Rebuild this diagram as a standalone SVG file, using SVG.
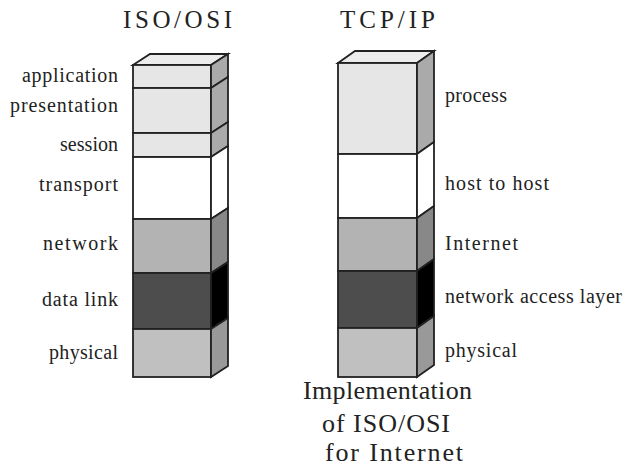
<svg xmlns="http://www.w3.org/2000/svg" width="625" height="469" viewBox="0 0 625 469">
  <style>
    .edge { stroke: #222; stroke-width: 1.8; stroke-linejoin: miter; }
    .txt { font-family: 'Liberation Serif', 'DejaVu Serif', serif; fill: #222; }
    .lbl { font-size: 20px; }
    .ttl { font-size: 25px; }
    .cap { font-size: 26px; }
    .f-light { fill: #e6e6e6; } .s-light { fill: #aaaaaa; }
    .f-white { fill: #ffffff; } .s-white { fill: #ffffff; }
    .f-mid { fill: #b3b3b3; } .s-mid { fill: #888888; }
    .f-dark { fill: #4d4d4d; } .s-dark { fill: #000000; }
    .f-phys { fill: #c0c0c0; } .s-phys { fill: #999999; }
    .top { fill: #ececec; }
  </style>

  <!-- Titles -->
  <g class="txt" font-family="Liberation Serif, serif">
    <text class="ttl" x="123" y="28" textLength="109" lengthAdjust="spacing">ISO/OSI</text>
    <text class="ttl" x="340" y="28" textLength="95" lengthAdjust="spacing">TCP/IP</text>
  </g>

  <!-- ISO/OSI stack: front x 133..211, depth (+17,-11) -->
  <g id="osi-stack" class="txt" font-family="Liberation Serif, serif">
    <polygon id="osi-top" class="top edge" points="133,65 150,54 228,54 211,65"/>
    <g id="osi-application">
      <rect class="f-light edge" x="133" y="65" width="78" height="23"/>
      <polygon class="s-light edge" points="211,65 228,54 228,77 211,88"/>
      <text class="lbl" x="118" y="82" text-anchor="end" textLength="96" lengthAdjust="spacing">application</text>
    </g>
    <g id="osi-presentation">
      <rect class="f-light edge" x="133" y="88" width="78" height="45"/>
      <polygon class="s-light edge" points="211,88 228,77 228,122 211,133"/>
      <text class="lbl" x="118" y="112" text-anchor="end" textLength="108" lengthAdjust="spacing">presentation</text>
    </g>
    <g id="osi-session">
      <rect class="f-light edge" x="133" y="133" width="78" height="24"/>
      <polygon class="s-light edge" points="211,133 228,122 228,146 211,157"/>
      <text class="lbl" x="118" y="151" text-anchor="end" textLength="58" lengthAdjust="spacing">session</text>
    </g>
    <g id="osi-transport">
      <rect class="f-white edge" x="133" y="157" width="78" height="62"/>
      <polygon class="s-white edge" points="211,157 228,146 228,208 211,219"/>
      <text class="lbl" x="118" y="191" text-anchor="end" textLength="79" lengthAdjust="spacing">transport</text>
    </g>
    <g id="osi-network">
      <rect class="f-mid edge" x="133" y="219" width="78" height="54"/>
      <polygon class="s-mid edge" points="211,219 228,208 228,262 211,273"/>
      <text class="lbl" x="118" y="250" text-anchor="end" textLength="75" lengthAdjust="spacing">network</text>
    </g>
    <g id="osi-datalink">
      <rect class="f-dark edge" x="133" y="273" width="78" height="56"/>
      <polygon class="s-dark edge" points="211,273 228,262 228,318 211,329"/>
      <text class="lbl" x="118" y="306" text-anchor="end" textLength="76" lengthAdjust="spacing">data link</text>
    </g>
    <g id="osi-physical">
      <rect class="f-phys edge" x="133" y="329" width="78" height="48"/>
      <polygon class="s-phys edge" points="211,329 228,318 228,366 211,377"/>
      <text class="lbl" x="118" y="359" text-anchor="end" textLength="69" lengthAdjust="spacing">physical</text>
    </g>
  </g>

  <!-- TCP/IP stack: front x 338..417, depth (+17,-12) -->
  <g id="tcpip-stack" class="txt" font-family="Liberation Serif, serif">
    <polygon id="tcpip-top" class="top edge" points="338,63 355,51 434,51 417,63"/>
    <g id="tcpip-process">
      <rect class="f-light edge" x="338" y="63" width="79" height="91"/>
      <polygon class="s-light edge" points="417,63 434,51 434,142 417,154"/>
      <text class="lbl" x="445" y="102" textLength="62" lengthAdjust="spacing">process</text>
    </g>
    <g id="tcpip-hosttohost">
      <rect class="f-white edge" x="338" y="154" width="79" height="64"/>
      <polygon class="s-white edge" points="417,154 434,142 434,206 417,218"/>
      <text class="lbl" x="445" y="190" textLength="104" lengthAdjust="spacing">host to host</text>
    </g>
    <g id="tcpip-internet">
      <rect class="f-mid edge" x="338" y="218" width="79" height="53"/>
      <polygon class="s-mid edge" points="417,218 434,206 434,259 417,271"/>
      <text class="lbl" x="445" y="250" textLength="73" lengthAdjust="spacing">Internet</text>
    </g>
    <g id="tcpip-networkaccess">
      <rect class="f-dark edge" x="338" y="271" width="79" height="57"/>
      <polygon class="s-dark edge" points="417,271 434,259 434,316 417,328"/>
      <text class="lbl" x="445" y="303" textLength="177" lengthAdjust="spacing">network access layer</text>
    </g>
    <g id="tcpip-physical">
      <rect class="f-phys edge" x="338" y="328" width="79" height="49"/>
      <polygon class="s-phys edge" points="417,328 434,316 434,365 417,377"/>
      <text class="lbl" x="445" y="357" textLength="72" lengthAdjust="spacing">physical</text>
    </g>
  </g>

  <!-- Caption under the TCP/IP stack -->
  <g id="caption" class="txt" font-family="Liberation Serif, serif">
    <text class="cap" x="303" y="399" textLength="169" lengthAdjust="spacing">Implementation</text>
    <text class="cap" x="322" y="432" textLength="128" lengthAdjust="spacing">of ISO/OSI</text>
    <text class="cap" x="325" y="461" textLength="138" lengthAdjust="spacing">for Internet</text>
  </g>
</svg>
